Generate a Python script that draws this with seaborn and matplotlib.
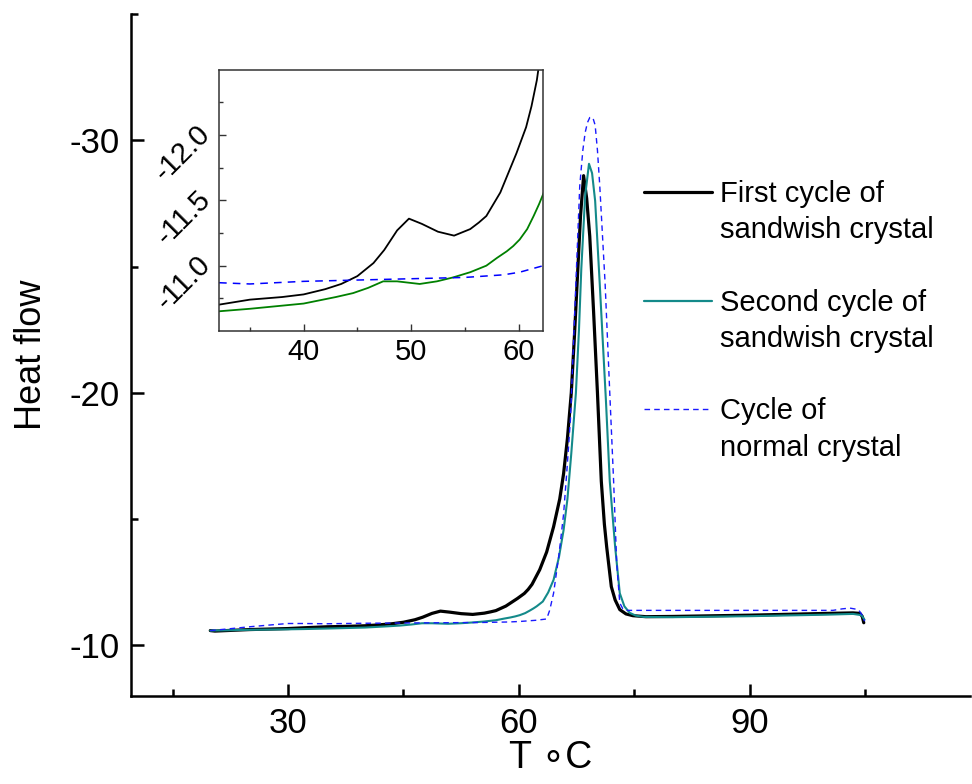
import matplotlib
matplotlib.use("Agg")
import matplotlib.pyplot as plt
from matplotlib.lines import Line2D
import numpy as np
import pandas as pd
import seaborn as sns

# ---------------- data ----------------
T_first = [19.9, 20.5, 25, 30, 32, 35, 38, 40, 42, 43.5, 45, 46.5, 47.5, 48.7, 49.8, 51,
           52.5, 54, 55.5, 56.3, 57, 58.3, 59.0, 59.8, 60.7, 61.2, 61.7, 62.7, 63.6, 64.5,
           65.3, 65.8, 66.3, 66.8, 67.2, 67.6, 68.0, 68.4, 68.8, 69.2, 69.7, 70.2, 70.7,
           71.1, 71.4, 72.0, 72.5, 73.1, 73.9, 74.8, 76.5, 80, 90, 100, 103.4, 104.3,
           104.6, 104.8]
H_first = [-10.59, -10.57, -10.63, -10.67, -10.70, -10.74, -10.76, -10.78, -10.82, -10.86,
           -10.92, -11.02, -11.12, -11.27, -11.36, -11.32, -11.26, -11.23, -11.28, -11.33,
           -11.38, -11.56, -11.70, -11.86, -12.06, -12.22, -12.42, -13.0, -13.7, -14.7,
           -15.8, -16.8, -18.2, -20.0, -22.2, -24.6, -27.0, -28.6, -27.7, -26.2, -23.2,
           -20.0, -16.5, -14.8, -13.9, -12.33, -11.8, -11.42, -11.25, -11.18, -11.14,
           -11.15, -11.2, -11.27, -11.29, -11.27, -11.15, -10.9]

T_second = [19.9, 25, 30, 32, 35, 40, 43, 44.6, 46, 47.4, 48.7, 50.8, 52.4, 53.9, 55.5, 57,
            58, 58.9, 59.5, 60.1, 60.8, 61.4, 61.9, 62.3, 63.1, 63.8, 64.5, 65.2, 65.8,
            66.3, 66.8, 67.4, 67.8, 68.1, 68.6, 69.1, 69.5, 69.9, 70.5, 70.9, 71.3, 71.8,
            72.5, 73.1, 73.7, 74.4, 75.2, 76.2, 80, 90, 100, 103.4, 104.5, 104.9]
H_second = [-10.59, -10.62, -10.64, -10.65, -10.67, -10.71, -10.76, -10.79, -10.83, -10.88,
            -10.88, -10.86, -10.88, -10.91, -10.95, -11.0, -11.06, -11.11, -11.15, -11.2,
            -11.28, -11.38, -11.47, -11.55, -11.74, -12.1, -12.6, -13.5, -14.57, -15.8,
            -17.6, -20.0, -22.5, -24.9, -27.8, -29.07, -28.7, -27.6, -24.3, -22.0, -19.7,
            -16.5, -13.9, -12.07, -11.55, -11.29, -11.18, -11.13, -11.12, -11.16, -11.22,
            -11.25, -11.2, -11.02]

T_normal = [19.9, 22, 25, 28, 30, 32, 35, 40, 45, 50, 55, 58.6, 60.1, 62.3, 63.6, 64.0, 64.5,
            65.2, 65.8, 66.2, 66.7, 67.3, 67.9, 68.3, 68.6, 68.9, 69.2, 69.6, 69.9, 70.2,
            70.5, 71.2, 71.8, 72.3, 72.7, 73.1, 73.5, 73.8, 77.4, 90, 100.8, 102, 103, 104.1,
            104.6, 104.9]
H_normal = [-10.59, -10.65, -10.74, -10.82, -10.87, -10.87, -10.86, -10.88, -10.89, -10.90,
            -10.91, -10.93, -10.95, -11.0, -11.05, -11.4, -12.07, -13.6, -15.2, -16.8, -19.0,
            -23.6, -28.2, -29.6, -30.3, -30.7, -30.9, -30.9, -30.6, -29.6, -28.2, -24.3,
            -20.0, -16.5, -13.26, -11.68, -11.45, -11.39, -11.39, -11.39, -11.39, -11.45,
            -11.48, -11.42, -11.2, -10.96]

labels = ["First cycle of\nsandwish crystal",
          "Second cycle of\nsandwish crystal",
          "Cycle of\nnormal crystal"]

df_first = pd.DataFrame({"T": T_first, "H": H_first})
df_second = pd.DataFrame({"T": T_second, "H": H_second})
df_normal = pd.DataFrame({"T": T_normal, "H": H_normal})

# ---------------- style ----------------
sns.set_theme(style="ticks")
plt.rcParams["font.family"] = ["Liberation Sans", "DejaVu Sans"]
plt.rcParams["axes.unicode_minus"] = False
plt.rcParams["text.color"] = "black"
plt.rcParams["axes.labelcolor"] = "black"
plt.rcParams["xtick.color"] = "black"
plt.rcParams["ytick.color"] = "black"

W, Hh = 972, 784
fig = plt.figure(figsize=(W / 100, Hh / 100), dpi=100)

def fx(px):
    return px / W

def fy(py):
    return 1 - py / Hh

# ---------------- main axes ----------------
ax = fig.add_axes([fx(131), fy(696), fx(970 - 131), (696 - 14) / Hh])
sns.lineplot(data=df_first, x="T", y="H", ax=ax, color="black", lw=2.3,
             sort=False, estimator=None)
sns.lineplot(data=df_second, x="T", y="H", ax=ax, color="#148a8a", lw=1.5,
             sort=False, estimator=None)
sns.lineplot(data=df_normal, x="T", y="H", ax=ax, color="#1a1aff", lw=1.0,
             sort=False, estimator=None, linestyle=(0, (4, 3)))
ax.set_xlim(9.6, 118.6)
ax.set_ylim(-8, -35)
ax.set_yticks([-10, -20, -30])
ax.set_yticks([-15, -25, -35], minor=True)
ax.set_xticks([30, 60, 90])
ax.set_xticks([15, 45, 75, 105], minor=True)
for s in ["top", "right"]:
    ax.spines[s].set_visible(False)
for s in ["left", "bottom"]:
    ax.spines[s].set_color("black")
    ax.spines[s].set_linewidth(1.8)
ax.tick_params(which="major", direction="in", length=9, width=1.8, labelsize=25,
               pad=8, colors="black")
ax.tick_params(which="minor", direction="in", length=5, width=1.8, colors="black")
ax.set_xlabel("T \u2218C", fontsize=27, labelpad=0, color="black")
ax.set_ylabel("Heat flow", fontsize=26, labelpad=15, color="black")
ax.set_facecolor("white")

# ---------------- legend (drawn manually to match layout) ----------------
leg_y = [191.7, 301.0, 409.0]
leg_styles = [dict(color="black", lw=2.3),
              dict(color="#148a8a", lw=1.6),
              dict(color="#1a1aff", lw=1.0, linestyle=(0, (4, 3)))]
base1 = [201.7, 310.7, 419.3]
for yl, st, lab, b in zip(leg_y, leg_styles, labels, base1):
    fig.add_artist(Line2D([fx(644), fx(712)], [fy(yl), fy(yl)], **st))
    l1, l2 = lab.split("\n")
    fig.text(fx(720), fy(b), l1, fontsize=21, va="baseline", ha="left", color="black")
    fig.text(fx(720), fy(b + 36.6), l2, fontsize=21, va="baseline", ha="left", color="black")

# ---------------- inset ----------------
axin = fig.add_axes([fx(218.7), fy(331), fx(543.3 - 218.7), (331 - 69.7) / Hh])
sns.lineplot(data=df_first, x="T", y="H", ax=axin, color="black", lw=1.3,
             sort=False, estimator=None)
sns.lineplot(data=df_second, x="T", y="H", ax=axin, color="#008000", lw=1.3,
             sort=False, estimator=None)
sns.lineplot(data=df_normal, x="T", y="H", ax=axin, color="#0000ff", lw=1.1,
             sort=False, estimator=None, linestyle=(0, (5, 4)))
axin.set_xlim(32.1, 62.3)
axin.set_ylim(-10.5, -12.5)
axin.set_xticks([40, 50, 60])
axin.set_xticks([35, 45, 55], minor=True)
axin.set_yticks([-11.0, -11.5, -12.0])
axin.set_yticks([-10.75, -11.25, -11.75, -12.25], minor=True)
axin.set_yticklabels(["-11.0", "-11.5", "-12.0"])
axin.set_xlabel("")
axin.set_ylabel("")
for s in axin.spines.values():
    s.set_color("#333333")
    s.set_linewidth(1.1)
axin.tick_params(which="major", direction="in", length=5, width=1.0, labelsize=21,
                 pad=5, colors="#333333", labelcolor="black")
axin.tick_params(which="minor", direction="in", length=3, width=1.0, colors="#333333")
for t in axin.get_yticklabels():
    t.set_rotation(45)
    t.set_rotation_mode("anchor")
    t.set_ha("right")
    t.set_va("baseline")
axin.set_facecolor("white")

fig.savefig("out.png", dpi=100, facecolor="white")
